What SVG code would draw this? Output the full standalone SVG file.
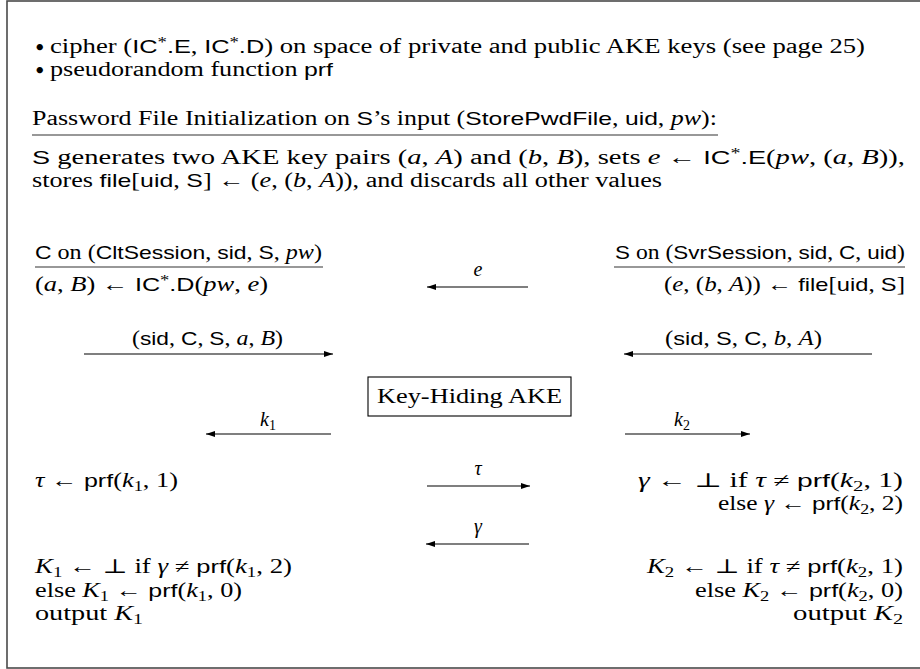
<svg xmlns="http://www.w3.org/2000/svg" width="920" height="669" viewBox="0 0 920 669">
<style>
.t{font-family:"Liberation Serif","DejaVu Serif",serif;font-size:20px;fill:#000}
.rm{font-family:"Liberation Serif","DejaVu Serif",serif}
.sf{font-family:"Liberation Sans","DejaVu Sans",sans-serif;font-size:19px}
.it{font-family:"Liberation Serif","DejaVu Serif",serif;font-style:italic}
.sb{font-size:14px}
.sup{font-size:14px}
.bul{font-family:"DejaVu Sans",sans-serif;font-size:18px;font-weight:bold}
.rule{stroke:#333;stroke-width:1.2}
.arr{stroke:#000;stroke-width:1.1;fill:none;marker-end:url(#ah)}
</style>
<defs>
<marker id="ah" markerUnits="userSpaceOnUse" markerWidth="9" markerHeight="7" refX="9" refY="3.5" orient="auto">
<path d="M0,0.5 L9,3.5 L0,6.5 Z" fill="#000"/>
</marker>
</defs>
<rect x="7" y="1" width="940" height="667" fill="#fff" stroke="#4a4a4a" stroke-width="1.6"/>

<g id="setup">
<text class="t bul" x="34" y="54">•</text>
<text class="t" x="50" y="53" textLength="815" lengthAdjust="spacingAndGlyphs"><tspan class="rm">cipher (</tspan><tspan class="sf">IC</tspan><tspan class="sup" dy="-6">*</tspan><tspan class="sf" dy="6">.E</tspan><tspan class="rm">, </tspan><tspan class="sf">IC</tspan><tspan class="sup" dy="-6">*</tspan><tspan class="sf" dy="6">.D</tspan><tspan class="rm">) on space of private and public AKE keys (see page 25)</tspan></text>
<text class="t bul" x="34" y="77">•</text>
<text class="t" x="50" y="76" textLength="283" lengthAdjust="spacingAndGlyphs"><tspan class="rm">pseudorandom function </tspan><tspan class="sf">prf</tspan></text>
</g>

<g id="init">
<text class="t" x="32" y="125" textLength="685" lengthAdjust="spacingAndGlyphs"><tspan class="rm">Password File Initialization on </tspan><tspan class="sf">S</tspan><tspan class="rm">’s input (</tspan><tspan class="sf">StorePwdFile</tspan><tspan class="rm">, </tspan><tspan class="sf">uid</tspan><tspan class="rm">, </tspan><tspan class="it">pw</tspan><tspan class="rm">):</tspan></text>
<line class="rule" x1="32" y1="135" x2="718" y2="135"/>
<text class="t" x="32" y="164" textLength="873" lengthAdjust="spacingAndGlyphs"><tspan class="sf">S</tspan><tspan class="rm"> generates two AKE key pairs (</tspan><tspan class="it">a</tspan><tspan class="rm">, </tspan><tspan class="it">A</tspan><tspan class="rm">) and (</tspan><tspan class="it">b</tspan><tspan class="rm">, </tspan><tspan class="it">B</tspan><tspan class="rm">), sets </tspan><tspan class="it">e</tspan><tspan class="rm"> ← </tspan><tspan class="sf">IC</tspan><tspan class="sup" dy="-6">*</tspan><tspan class="sf" dy="6">.E</tspan><tspan class="rm">(</tspan><tspan class="it">pw</tspan><tspan class="rm">, (</tspan><tspan class="it">a</tspan><tspan class="rm">, </tspan><tspan class="it">B</tspan><tspan class="rm">)),</tspan></text>
<text class="t" x="32" y="187" textLength="630" lengthAdjust="spacingAndGlyphs"><tspan class="rm">stores </tspan><tspan class="sf">file</tspan><tspan class="rm">[</tspan><tspan class="sf">uid</tspan><tspan class="rm">, </tspan><tspan class="sf">S</tspan><tspan class="rm">] ← (</tspan><tspan class="it">e</tspan><tspan class="rm">, (</tspan><tspan class="it">b</tspan><tspan class="rm">, </tspan><tspan class="it">A</tspan><tspan class="rm">)), and discards all other values</tspan></text>
</g>

<g id="client">
<text class="t" x="35" y="259" textLength="287" lengthAdjust="spacingAndGlyphs"><tspan class="sf">C</tspan><tspan class="rm"> on (</tspan><tspan class="sf">CltSession</tspan><tspan class="rm">, </tspan><tspan class="sf">sid</tspan><tspan class="rm">, </tspan><tspan class="sf">S</tspan><tspan class="rm">, </tspan><tspan class="it">pw</tspan><tspan class="rm">)</tspan></text>
<line class="rule" x1="35" y1="267" x2="323" y2="267"/>
<text class="t" x="35" y="291" textLength="233" lengthAdjust="spacingAndGlyphs"><tspan class="rm">(</tspan><tspan class="it">a</tspan><tspan class="rm">, </tspan><tspan class="it">B</tspan><tspan class="rm">) ← </tspan><tspan class="sf">IC</tspan><tspan class="sup" dy="-6">*</tspan><tspan class="sf" dy="6">.D</tspan><tspan class="rm">(</tspan><tspan class="it">pw</tspan><tspan class="rm">, </tspan><tspan class="it">e</tspan><tspan class="rm">)</tspan></text>
<text class="t" x="35" y="487" textLength="143" lengthAdjust="spacingAndGlyphs"><tspan class="it">τ</tspan><tspan class="rm"> ← </tspan><tspan class="sf">prf</tspan><tspan class="rm">(</tspan><tspan class="it">k</tspan><tspan class="sb" dy="4">1</tspan><tspan class="rm" dy="-4">, 1)</tspan></text>
<text class="t" x="35" y="573" textLength="257" lengthAdjust="spacingAndGlyphs"><tspan class="it">K</tspan><tspan class="sb" dy="4">1</tspan><tspan class="rm" dy="-4"> ← ⊥ if </tspan><tspan class="it">γ</tspan><tspan class="rm"> ≠ </tspan><tspan class="sf">prf</tspan><tspan class="rm">(</tspan><tspan class="it">k</tspan><tspan class="sb" dy="4">1</tspan><tspan class="rm" dy="-4">, 2)</tspan></text>
<text class="t" x="35" y="597" textLength="207" lengthAdjust="spacingAndGlyphs"><tspan class="rm">else </tspan><tspan class="it">K</tspan><tspan class="sb" dy="4">1</tspan><tspan class="rm" dy="-4"> ← </tspan><tspan class="sf">prf</tspan><tspan class="rm">(</tspan><tspan class="it">k</tspan><tspan class="sb" dy="4">1</tspan><tspan class="rm" dy="-4">, 0)</tspan></text>
<text class="t" x="35" y="620" textLength="108" lengthAdjust="spacingAndGlyphs"><tspan class="rm">output </tspan><tspan class="it">K</tspan><tspan class="sb" dy="4">1</tspan></text>
</g>

<g id="server">
<text class="t" x="905" y="259" text-anchor="end" textLength="290" lengthAdjust="spacingAndGlyphs"><tspan class="sf">S</tspan><tspan class="rm"> on (</tspan><tspan class="sf">SvrSession</tspan><tspan class="rm">, </tspan><tspan class="sf">sid</tspan><tspan class="rm">, </tspan><tspan class="sf">C</tspan><tspan class="rm">, </tspan><tspan class="sf">uid</tspan><tspan class="rm">)</tspan></text>
<line class="rule" x1="614" y1="267" x2="905" y2="267"/>
<text class="t" x="905" y="291" text-anchor="end" textLength="241" lengthAdjust="spacingAndGlyphs"><tspan class="rm">(</tspan><tspan class="it">e</tspan><tspan class="rm">, (</tspan><tspan class="it">b</tspan><tspan class="rm">, </tspan><tspan class="it">A</tspan><tspan class="rm">)) ← </tspan><tspan class="sf">file</tspan><tspan class="rm">[</tspan><tspan class="sf">uid</tspan><tspan class="rm">, </tspan><tspan class="sf">S</tspan><tspan class="rm">]</tspan></text>
<text class="t" x="903" y="487" text-anchor="end" textLength="265" lengthAdjust="spacingAndGlyphs"><tspan class="it">γ</tspan><tspan class="rm"> ← ⊥ if </tspan><tspan class="it">τ</tspan><tspan class="rm"> ≠ </tspan><tspan class="sf">prf</tspan><tspan class="rm">(</tspan><tspan class="it">k</tspan><tspan class="sb" dy="4">2</tspan><tspan class="rm" dy="-4">, 1)</tspan></text>
<text class="t" x="903" y="510" text-anchor="end" textLength="185" lengthAdjust="spacingAndGlyphs"><tspan class="rm">else </tspan><tspan class="it">γ</tspan><tspan class="rm"> ← </tspan><tspan class="sf">prf</tspan><tspan class="rm">(</tspan><tspan class="it">k</tspan><tspan class="sb" dy="4">2</tspan><tspan class="rm" dy="-4">, 2)</tspan></text>
<text class="t" x="903" y="573" text-anchor="end" textLength="256" lengthAdjust="spacingAndGlyphs"><tspan class="it">K</tspan><tspan class="sb" dy="4">2</tspan><tspan class="rm" dy="-4"> ← ⊥ if </tspan><tspan class="it">τ</tspan><tspan class="rm"> ≠ </tspan><tspan class="sf">prf</tspan><tspan class="rm">(</tspan><tspan class="it">k</tspan><tspan class="sb" dy="4">2</tspan><tspan class="rm" dy="-4">, 1)</tspan></text>
<text class="t" x="903" y="597" text-anchor="end" textLength="208" lengthAdjust="spacingAndGlyphs"><tspan class="rm">else </tspan><tspan class="it">K</tspan><tspan class="sb" dy="4">2</tspan><tspan class="rm" dy="-4"> ← </tspan><tspan class="sf">prf</tspan><tspan class="rm">(</tspan><tspan class="it">k</tspan><tspan class="sb" dy="4">2</tspan><tspan class="rm" dy="-4">, 0)</tspan></text>
<text class="t" x="903" y="620" text-anchor="end" textLength="110" lengthAdjust="spacingAndGlyphs"><tspan class="rm">output </tspan><tspan class="it">K</tspan><tspan class="sb" dy="4">2</tspan></text>
</g>

<g id="ake">
<rect x="368" y="377" width="203" height="39" fill="none" stroke="#000" stroke-width="1.1"/>
<text class="t" x="377" y="403" textLength="185" lengthAdjust="spacingAndGlyphs">Key-Hiding AKE</text>
</g>

<g id="connectors">
<line class="arr" x1="528" y1="287" x2="427" y2="287"/>
<text class="t it" x="478" y="276" text-anchor="middle">e</text>
<line class="arr" x1="84" y1="354" x2="333" y2="354"/>
<text class="t" x="132" y="345" textLength="151" lengthAdjust="spacingAndGlyphs"><tspan class="rm">(</tspan><tspan class="sf">sid</tspan><tspan class="rm">, </tspan><tspan class="sf">C</tspan><tspan class="rm">, </tspan><tspan class="sf">S</tspan><tspan class="rm">, </tspan><tspan class="it">a</tspan><tspan class="rm">, </tspan><tspan class="it">B</tspan><tspan class="rm">)</tspan></text>
<line class="arr" x1="872" y1="354" x2="624" y2="354"/>
<text class="t" x="665" y="345" textLength="157" lengthAdjust="spacingAndGlyphs"><tspan class="rm">(</tspan><tspan class="sf">sid</tspan><tspan class="rm">, </tspan><tspan class="sf">S</tspan><tspan class="rm">, </tspan><tspan class="sf">C</tspan><tspan class="rm">, </tspan><tspan class="it">b</tspan><tspan class="rm">, </tspan><tspan class="it">A</tspan><tspan class="rm">)</tspan></text>
<line class="arr" x1="331" y1="434" x2="206" y2="434"/>
<text class="t" x="260" y="426"><tspan class="it">k</tspan><tspan class="sb" dy="4">1</tspan></text>
<line class="arr" x1="625" y1="434" x2="750" y2="434"/>
<text class="t" x="674" y="426"><tspan class="it">k</tspan><tspan class="sb" dy="4">2</tspan></text>
<line class="arr" x1="427" y1="486" x2="530" y2="486"/>
<text class="t it" x="478" y="475" text-anchor="middle">τ</text>
<line class="arr" x1="529" y1="544" x2="426" y2="544"/>
<text class="t it" x="478" y="533" text-anchor="middle">γ</text>
</g>
</svg>
